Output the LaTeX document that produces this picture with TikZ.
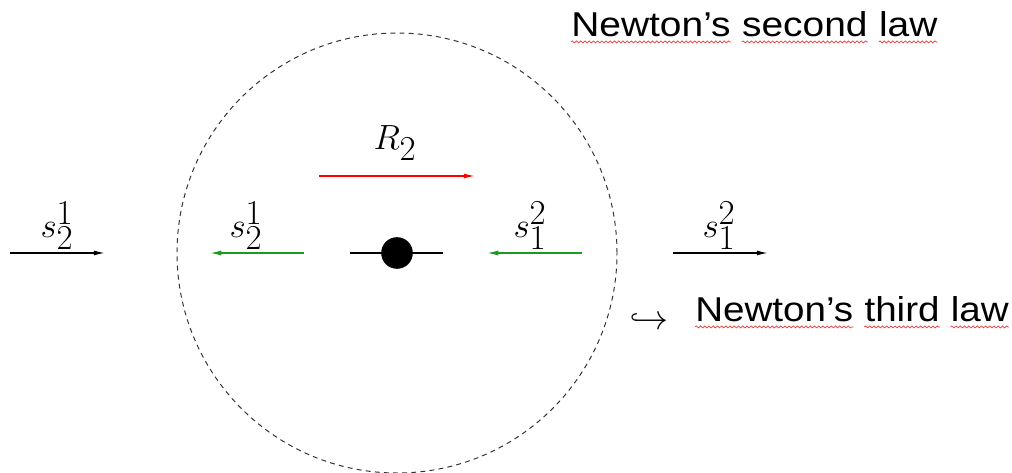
\documentclass[tikz,border=0pt]{standalone}
\usepackage[no-math]{fontspec}
\setmainfont{Liberation Sans}
\usetikzlibrary{arrows.meta,positioning,decorations.pathmorphing}
\definecolor{ForceGreen}{HTML}{1F9A1F}
\definecolor{Boundary}{HTML}{333333}
\definecolor{SpellRed}{HTML}{F03A3A}

\begin{document}
\begin{tikzpicture}[x=0.025cm,y=0.025cm,
    force/.style={line width=0.95pt,-{Latex[length=8pt,width=3.6pt]}},
    lbl/.style={font=\fontsize{35}{42}\selectfont,inner sep=0pt},
    lawword/.style={font=\fontsize{24.5}{29}\selectfont,inner sep=0pt},
    spellmark/.style={SpellRed,line width=0.5pt,decorate,
      decoration={snake,amplitude=0.7pt,segment length=3pt}}]
    \useasboundingbox (0,0) rectangle (1012,473);
    % cut around the body
    \draw[Boundary,line width=0.7pt,dash pattern=on 3.5pt off 3pt] (397,220) circle (220);
    \coordinate (bl) at (350,220);
    \coordinate (br) at (443,220);
    \draw[line width=0.95pt] (bl) -- (br);
    \node[circle,fill,inner sep=0pt,minimum size=0.79cm] (body) at (397,220) {};
    % forces on the cut
    \foreach \name/\xa/\xb/\xl/\col/\lo/\hi in {
      outl/10/105/57/black/2/1,
      inl/304/210/246/ForceGreen/2/1,
      inr/582/487/530/ForceGreen/1/2,
      outr/673/768/719/black/1/2}
    {
      \coordinate (\name a) at (\xa,220);
      \coordinate (\name b) at (\xb,220);
      \draw[force,\col] (\name a) -- (\name b);
      \node[lbl] (\name lab) at (\xl,247) {$s_{\lo}^{\hi}$};
    }
    \coordinate (Ra) at (319,297);
    \coordinate (Rb) at (475,297);
    \draw[force,red] (Ra) -- (Rb);
    \node[lbl] (Rlab) at (395,330) {$R_2$};
    % laws
    \node[lawword,anchor=base west] (sa) at (571,436) {\scalebox{1.13}[1]{Newton's}};
    \node[lawword,base right=7.7pt of sa] (sb) {\scalebox{1.13}[1]{second}};
    \node[lawword,base right=7.7pt of sb] (sc) {\scalebox{1.13}[1]{law}};
    \node[lbl] (hook) at (649,151) {$\hookrightarrow$};
    \node[lawword,anchor=base west] (ta) at (695,151) {\scalebox{1.12}[1]{Newton's}};
    \node[lawword,base right=7.6pt of ta] (tb) {\scalebox{1.12}[1]{third}};
    \node[lawword,base right=7.6pt of tb] (tc) {\scalebox{1.12}[1]{law}};
    \foreach \w in {sa,sb,sc,ta,tb,tc}
      \draw[spellmark] ([yshift=-3.5pt]\w.base west) -- ([yshift=-3.5pt]\w.base east);
  \end{tikzpicture}
\end{document}
